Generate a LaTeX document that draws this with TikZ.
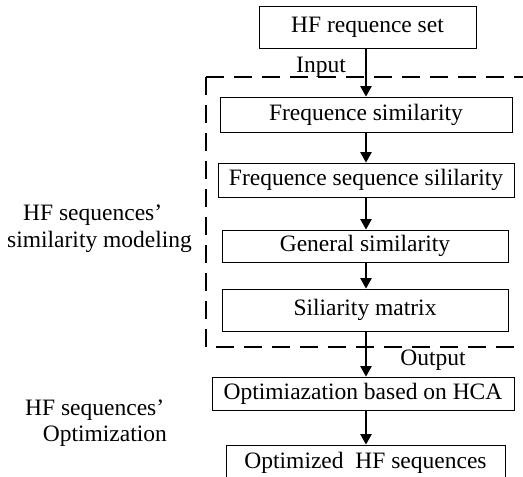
\documentclass[tikz,border=0pt]{standalone}
\usepackage{fontspec}
\setmainfont{Liberation Serif}
\usetikzlibrary{arrows.meta}
\begin{document}
\begin{tikzpicture}[x=1pt,y=-1pt,
  box/.style={draw,line width=1pt,inner sep=0pt,font=\fontsize{23.5}{26}\selectfont},
  lbl/.style={inner sep=0pt,font=\fontsize{23.5}{26}\selectfont},
  arr/.style={line width=1.2pt,-{Triangle[length=10.5pt,width=11.5pt]}},
  frame/.style={line width=1.2pt,dash pattern=on 18pt off 10pt}]
\useasboundingbox (0,0) rectangle (523,477);
\clip (0,0) rectangle (523,477);
% boxes
\node[box,minimum width=217pt,minimum height=42pt] (b1) at (367.5,27) {HF requence set};
\node[box,minimum width=292pt,minimum height=35pt] (b2) at (366,114.5) {Frequence similarity};
\node[box,minimum width=296pt,minimum height=34pt] (b3) at (366,180) {Frequence sequence sililarity};
\node[box,minimum width=286pt,minimum height=32pt] (b4) at (365,246) {General similarity};
\node[box,minimum width=286pt,minimum height=42pt] (b5) at (365,310) {Siliarity matrix};
\node[box,minimum width=302pt,minimum height=33pt] (b6) at (363,393.5) {Optimiazation based on HCA};
\node[box,minimum width=279pt,minimum height=36pt] (b7) at (365.5,463) {Optimized\ \ HF sequences};
% arrows
\draw[arr] (b1.south -| 366,0) -- (b2.north -| 366,0);
\draw[arr] (b2.south -| 366,0) -- (b3.north -| 366,0);
\draw[arr] (b3.south -| 366,0) -- (b4.north -| 366,0);
\draw[arr] (b4.south -| 366,0) -- (b5.north -| 366,0);
\draw[arr] (b5.south -| 366,0) -- (b6.north -| 366,0);
\draw[arr] (b6.south -| 366,0) -- (b7.north -| 366,0);
% dashed frame
\coordinate (fa) at (206,77);
\coordinate (fb) at (523,77);
\coordinate (fc) at (206,347);
\coordinate (fd) at (523,347);
\draw[frame] (fa) -- (fb);
\draw[frame] (fa) -- (fc) -- (fd);
% labels
\node[lbl] (in) at (321,67) {Input};
\node[lbl] (out) at (433,360) {Output};
\node[lbl,anchor=base west] (l1) at (23,220) {HF sequences’};
\node[lbl,anchor=base west] (l2) at (7,247) {similarity modeling};
\node[lbl,anchor=base west] (l3) at (25,415) {HF sequences’};
\node[lbl,anchor=base east] (l4) at (167,441) {Optimization};
\end{tikzpicture}
\end{document}
